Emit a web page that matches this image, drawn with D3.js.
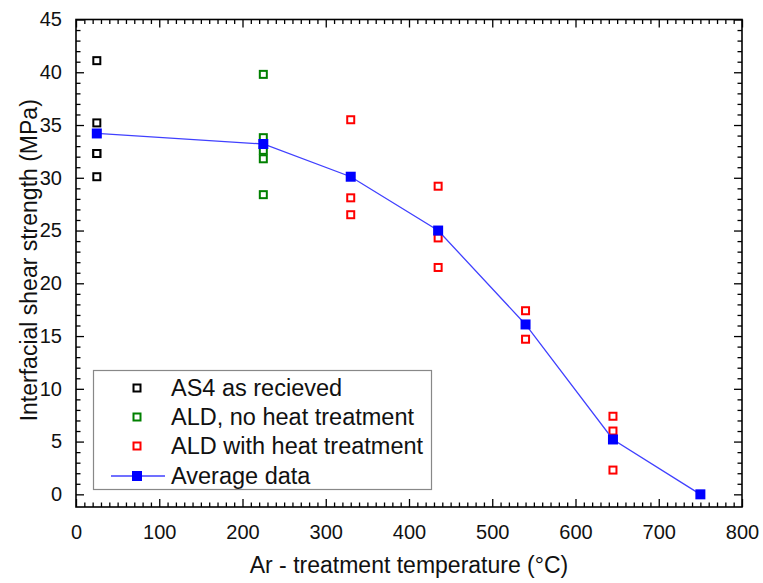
<!DOCTYPE html>
<html>
<head>
<meta charset="utf-8">
<script src="https://cdn.jsdelivr.net/npm/d3@7"></script>
<style>
  html, body { margin: 0; padding: 0; background: #fff; }
  svg text { font-family: "Liberation Sans", Arial, sans-serif; fill: #111; }
</style>
</head>
<body>
<svg id="chart" width="763" height="583"></svg>
<script>
const as4Temp = 25;
const as4Values = [41.1, 35.2, 32.3, 32.3, 30.1];

const aldNoHeatTemp = 225;
const aldNoHeatValues = [39.8, 33.8, 32.6, 31.8, 28.4];

const aldHeatTemps = [330, 330, 330, 435, 435, 435, 540, 540, 645, 645, 645];
const aldHeatValues = [35.5, 28.1, 26.5, 29.2, 24.3, 21.5, 17.4, 14.7, 7.4, 6.0, 2.3];

const avgTemps = [25, 225, 330, 435, 540, 645, 750];
const avgValues = [34.2, 33.2, 30.1, 25.0, 16.1, 5.2, 0];

const xTicks = [0, 100, 200, 300, 400, 500, 600, 700, 800];
const yTicks = [0, 5, 10, 15, 20, 25, 30, 35, 40, 45];

const legendLabels = ["AS4 as recieved", "ALD, no heat treatment", "ALD with heat treatment", "Average data"];

const svg = d3.select("#chart");

let x = d3.scaleLinear().domain([0, 800]).range([76, 742]);
let y = d3.scaleLinear().domain([-1.2, 45]).range([507, 19.5]);

let plotTop = y(45), plotBottom = y(-1.2), plotLeft = x(0), plotRight = x(800);

// minor ticks
let xMinor = d3.range(0, 801, 10).filter(v => v % 100 !== 0);
let yMinor = d3.range(0, 46, 1).filter(v => v % 5 !== 0);

function tickAxis(axis, pos, major, minor, showLabels) {
  let g = svg.append("g").attr("transform", pos);
  g.call(axis.tickValues(minor).tickSize(-4.5).tickFormat(""));
  let g2 = svg.append("g").attr("transform", pos);
  g2.call(axis.tickValues(major).tickSize(-8).tickPadding(14).tickFormat(showLabels ? d3.format("d") : ""));
  [g, g2].forEach(s => {
    s.select(".domain").remove();
    s.selectAll("line").attr("stroke", "#000").attr("stroke-width", 1.3);
  });
  return g2;
}

let xb = tickAxis(d3.axisBottom(x), `translate(0,${plotBottom})`, xTicks, xMinor, true);
xb.selectAll("text").attr("font-size", 20).attr("dy", "0.9em");
tickAxis(d3.axisTop(x), `translate(0,${plotTop})`, xTicks, xMinor, false);

let yl = tickAxis(d3.axisLeft(y), `translate(${plotLeft},0)`, yTicks, yMinor, true);
yl.selectAll("text").attr("font-size", 20);
tickAxis(d3.axisRight(y), `translate(${plotRight},0)`, yTicks, yMinor, false);

// frame
svg.append("rect")
  .attr("x", plotLeft).attr("y", plotTop)
  .attr("width", plotRight - plotLeft).attr("height", plotBottom - plotTop)
  .attr("fill", "none").attr("stroke", "#000").attr("stroke-width", 1.6);

// axis titles
svg.append("text")
  .attr("x", (plotLeft + plotRight) / 2).attr("y", 573)
  .attr("text-anchor", "middle").attr("font-size", 23)
  .text("Ar - treatment temperature (°C)");

svg.append("text")
  .attr("transform", `translate(29,${(plotTop + plotBottom) / 2 - 3}) rotate(-90)`)
  .attr("text-anchor", "middle").attr("dy", "0.35em").attr("font-size", 23)
  .text("Interfacial shear strength (MPa)");

// hollow squares
function hollow(data, color) {
  svg.append("g").selectAll("rect")
    .data(data).join("rect")
    .attr("x", d => x(d[0]) - 3.5).attr("y", d => y(d[1]) - 3.5)
    .attr("width", 7).attr("height", 7)
    .attr("fill", "#fff").attr("stroke", color).attr("stroke-width", 2);
}

hollow(as4Values.map(v => [as4Temp, v]), "#000");
hollow(aldNoHeatValues.map(v => [aldNoHeatTemp, v]), "#008000");
hollow(aldHeatTemps.map((t, i) => [t, aldHeatValues[i]]), "#ff0000");

// average line
let avg = avgTemps.map((t, i) => [t, avgValues[i]]);
svg.append("path")
  .datum(avg)
  .attr("fill", "none").attr("stroke", "#4040ff").attr("stroke-width", 1.3)
  .attr("d", d3.line().x(d => x(d[0])).y(d => y(d[1])));

svg.append("g").selectAll("rect")
  .data(avg).join("rect")
  .attr("x", d => x(d[0]) - 5).attr("y", d => y(d[1]) - 5)
  .attr("width", 10).attr("height", 10)
  .attr("fill", "#0000ff");

// legend
let lg = svg.append("g");
lg.append("rect")
  .attr("x", 93.5).attr("y", 370.5).attr("width", 338).attr("height", 119)
  .attr("fill", "#fff").attr("stroke", "#888").attr("stroke-width", 1.2);

let legendColors = ["#000", "#008000", "#ff0000"];
let rowY = [388, 417, 446, 476];

legendLabels.forEach((label, i) => {
  if (i < 3) {
    lg.append("rect")
      .attr("x", 137 - 3.5).attr("y", rowY[i] - 3.5)
      .attr("width", 7).attr("height", 7)
      .attr("fill", "#fff").attr("stroke", legendColors[i]).attr("stroke-width", 2);
  } else {
    lg.append("line")
      .attr("x1", 111).attr("x2", 165).attr("y1", rowY[i]).attr("y2", rowY[i])
      .attr("stroke", "#4040ff").attr("stroke-width", 1.3);
    lg.append("rect")
      .attr("x", 137 - 5).attr("y", rowY[i] - 5)
      .attr("width", 10).attr("height", 10)
      .attr("fill", "#0000ff");
  }
  lg.append("text")
    .attr("x", 171).attr("y", rowY[i]).attr("dy", "0.36em")
    .attr("font-size", 23.5)
    .text(label);
});
</script>
</body>
</html>
